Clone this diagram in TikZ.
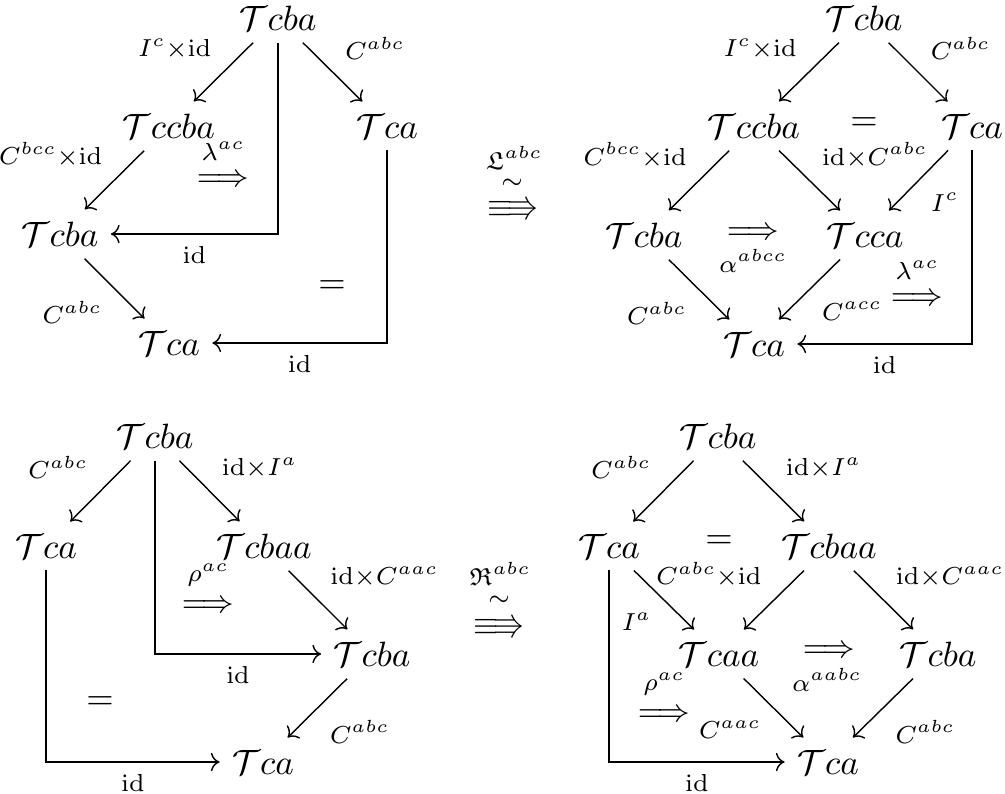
\documentclass[tikz,border=0pt]{standalone}
\usepackage{amsmath}
\usepackage{amssymb}
\usepackage{tikz}
\usetikzlibrary{arrows.meta}
\tikzset{>={Computer Modern Rightarrow}}
\tikzset{
    obj/.style={execute at begin node={$}, execute at end node={$}},
    lbl/.style={execute at begin node={$\scriptstyle}, execute at end node={$}},
    cell/.style={inner sep=0pt, font=\small},
    cellLbl/.style={lbl, inner sep=0pt},
}
\newcommand{\Rrightlong}{\mathrel{\equiv\joinrel\Rrightarrow}}

\begin{document}
\begin{tikzpicture}[x=0.01cm, y=-0.01cm]
        \useasboundingbox (0,0) rectangle (1005,793);

        % lambda side
        \node[obj] (lamTop) at (278,18) {\mathcal{T}cba};
        \node[obj] (lamCCBA) at (169,126) {\mathcal{T}ccba};
        \node[obj] (lamCA) at (387,126) {\mathcal{T}ca};
        \node[obj] (lamCBA) at (60,234) {\mathcal{T}cba};
        \node[obj] (lamBot) at (169,343) {\mathcal{T}ca};
        \node[obj] (lamEq) at (332,287) {=};
        \node[cell] (lamCell) at (223,181) {$\Longrightarrow$};
        \node[cellLbl] (lamCellLbl) at (223,151) {\lambda^{ac}};

        \draw[->] (lamTop) -- node[lbl, above left] {I^c\times\mathrm{id}} (lamCCBA);
        \draw[->] (lamTop) -- node[lbl, above right] {C^{abc}} (lamCA);
        \draw[->] (lamCCBA) -- node[lbl, above left] {C^{bcc}\times\mathrm{id}} (lamCBA);
        \draw[->] (lamTop) |- node[lbl, pos=.75, below] {\mathrm{id}} (lamCBA);
        \draw[->] (lamCBA) -- node[lbl, below left] {C^{abc}} (lamBot);
        \draw[->] (lamCA) |- node[lbl, pos=.75, below] {\mathrm{id}} (lamBot);

        % L modification
        \node[cell] (modL) at (513,209) {$\Rrightlong$};
        \node[cellLbl] (modLTilde) at (512,184) {\sim};
        \node[cellLbl] (modLLbl) at (514,158) {\mathfrak{L}^{abc}};

        % pentagon for L
        \node[obj] (pLTop) at (864,18) {\mathcal{T}cba};
        \node[obj] (pLCCBA) at (754,126) {\mathcal{T}ccba};
        \node[obj] (pLCA) at (972,126) {\mathcal{T}ca};
        \node[obj] (pLCBA) at (644,235) {\mathcal{T}cba};
        \node[obj] (pLCCA) at (865,235) {\mathcal{T}cca};
        \node[obj] (pLBot) at (754,344) {\mathcal{T}ca};
        \node[obj] (pLEq) at (864,124) {=};
        \node[cell] (pLAlpha) at (753,234) {$\Longrightarrow$};
        \node[cellLbl] (pLAlphaLbl) at (753,261) {\alpha^{abcc}};
        \node[cell] (pLLam) at (917,300) {$\Longrightarrow$};
        \node[cellLbl] (pLLamLbl) at (917,270) {\lambda^{ac}};

        \draw[->] (pLTop) -- node[lbl, above left] {I^c\times\mathrm{id}} (pLCCBA);
        \draw[->] (pLTop) -- node[lbl, above right] {C^{abc}} (pLCA);
        \draw[->] (pLCCBA) -- node[lbl, above left] {C^{bcc}\times\mathrm{id}} (pLCBA);
        \draw[->] (pLCCBA) -- node[lbl, above right] {\mathrm{id}\times C^{abc}} (pLCCA);
        \draw[->] (pLCA) -- node[lbl, below right] {I^c} (pLCCA);
        \draw[->] (pLCBA) -- node[lbl, below left] {C^{abc}} (pLBot);
        \draw[->] (pLCCA) -- node[lbl, below right] {C^{acc}} (pLBot);
        \draw[->] (pLCA) |- node[lbl, pos=.75, below] {\mathrm{id}} (pLBot);

        % rho side
        \node[obj] (rhoTop) at (155,436) {\mathcal{T}cba};
        \node[obj] (rhoCA) at (46,546) {\mathcal{T}ca};
        \node[obj] (rhoCBAA) at (264,546) {\mathcal{T}cbaa};
        \node[obj] (rhoCBA) at (372,654) {\mathcal{T}cba};
        \node[obj] (rhoBot) at (263,762) {\mathcal{T}ca};
        \node[obj] (rhoEq) at (100,703) {=};
        \node[cell] (rhoCell) at (208,607) {$\Longrightarrow$};
        \node[cellLbl] (rhoCellLbl) at (208,575) {\rho^{ac}};

        \draw[->] (rhoTop) -- node[lbl, above left] {C^{abc}} (rhoCA);
        \draw[->] (rhoTop) -- node[lbl, above right] {\mathrm{id}\times I^a} (rhoCBAA);
        \draw[->] (rhoCBAA) -- node[lbl, above right] {\mathrm{id}\times C^{aac}} (rhoCBA);
        \draw[->] (rhoTop) |- node[lbl, pos=.75, below] {\mathrm{id}} (rhoCBA);
        \draw[->] (rhoCBA) -- node[lbl, below right] {C^{abc}} (rhoBot);
        \draw[->] (rhoCA) |- node[lbl, pos=.75, below] {\mathrm{id}} (rhoBot);

        % R modification
        \node[cell] (modR) at (499,627) {$\Rrightlong$};
        \node[cellLbl] (modRTilde) at (499,601) {\sim};
        \node[cellLbl] (modRLbl) at (500,574) {\mathfrak{R}^{abc}};

        % pentagon for R
        \node[obj] (pRTop) at (718,436) {\mathcal{T}cba};
        \node[obj] (pRCA) at (609,546) {\mathcal{T}ca};
        \node[obj] (pRCBAA) at (829,546) {\mathcal{T}cbaa};
        \node[obj] (pRCAA) at (719,654) {\mathcal{T}caa};
        \node[obj] (pRCBA) at (938,654) {\mathcal{T}cba};
        \node[obj] (pRBot) at (828,762) {\mathcal{T}ca};
        \node[obj] (pREq) at (719,542) {=};
        \node[cell] (pRAlpha) at (829,652) {$\Longrightarrow$};
        \node[cellLbl] (pRAlphaLbl) at (827,680) {\alpha^{aabc}};
        \node[cell] (pRRho) at (664,716) {$\Longrightarrow$};
        \node[cellLbl] (pRRhoLbl) at (664,684) {\rho^{ac}};

        \draw[->] (pRTop) -- node[lbl, above left] {C^{abc}} (pRCA);
        \draw[->] (pRTop) -- node[lbl, above right] {\mathrm{id}\times I^a} (pRCBAA);
        \draw[->] (pRCA) -- node[lbl, below left] {I^a} (pRCAA);
        \draw[->] (pRCBAA) -- node[lbl, above left] {C^{abc}\times\mathrm{id}} (pRCAA);
        \draw[->] (pRCBAA) -- node[lbl, above right] {\mathrm{id}\times C^{aac}} (pRCBA);
        \draw[->] (pRCAA) -- node[lbl, below left] {C^{aac}} (pRBot);
        \draw[->] (pRCBA) -- node[lbl, below right] {C^{abc}} (pRBot);
        \draw[->] (pRCA) |- node[lbl, pos=.75, below] {\mathrm{id}} (pRBot);
\end{tikzpicture}
\end{document}
